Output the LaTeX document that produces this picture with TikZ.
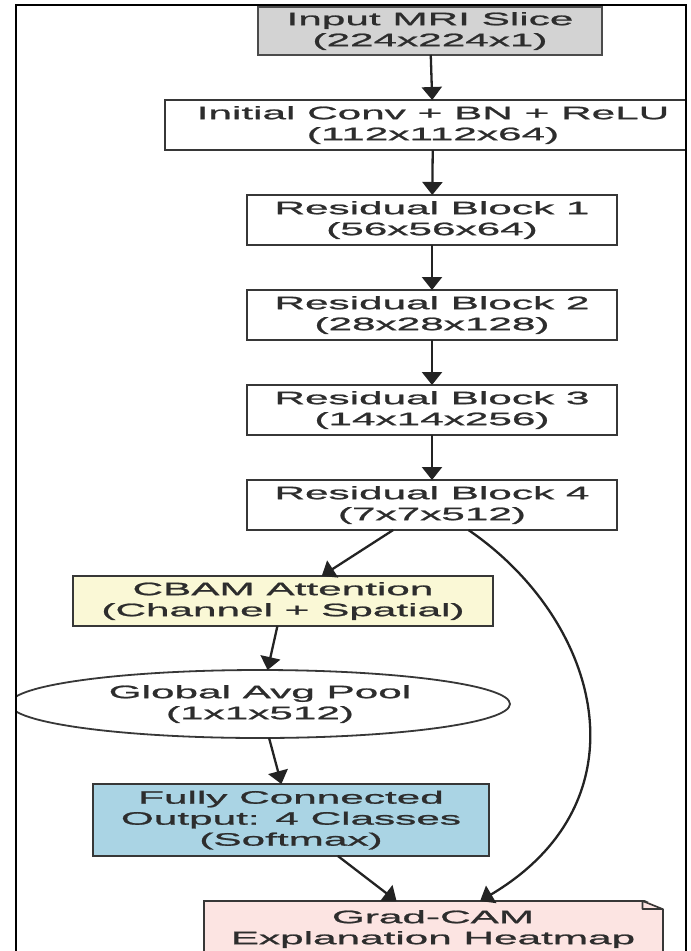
\documentclass[tikz,border=0pt]{standalone}
\usepackage{fontspec}
\newfontfamily\diagfont[FakeStretch=2.35, FakeBold=1.2]{Liberation Sans}
\usetikzlibrary{shapes.geometric, arrows.meta, positioning, calc}
\definecolor{edgegray}{RGB}{55, 55, 55}
\definecolor{arrowgray}{RGB}{35, 35, 35}
\definecolor{textgray}{RGB}{45, 45, 45}
\definecolor{inputgray}{RGB}{211, 211, 211}
\definecolor{cbamyellow}{RGB}{250, 248, 214}
\definecolor{fcblue}{RGB}{170, 212, 228}
\definecolor{campink}{RGB}{252, 228, 226}
\tikzset{
  layer/.style={rectangle, draw=edgegray, line width=2pt, fill=white,
              minimum width=#1, minimum height=50pt, inner sep=0pt, outer sep=0pt},
  layer/.default=370pt,
  inputbox/.style={layer=344pt, draw=edgegray!90, line width=2.6pt,
              fill=inputgray, minimum height=48pt},
  cbambox/.style={layer=420pt, fill=cbamyellow},
  poolbox/.style={ellipse, draw=edgegray, line width=1.8pt, fill=white,
              minimum width=500pt, minimum height=68pt, inner sep=0pt, outer sep=0pt},
  fcbox/.style={layer=396pt, fill=fcblue, minimum height=72pt},
  notebox/.style={layer=459pt, fill=campink, minimum height=56pt},
  arrow/.style={-{Triangle[length=13pt, width=20pt]}, line width=2.3pt, color=arrowgray},
}

\begin{document}
\begin{tikzpicture}[x=1pt, y=-1pt, node distance=45pt,
    every node/.style={font=\diagfont\fontsize{18}{21}\selectfont, text=textgray, align=center}]
  \useasboundingbox (0,0) rectangle (691,951);
  \begin{scope}
  \clip (16,5) rectangle (686,951);
  % backbone
  \node[inputbox] (inp) at (430,31) {Input MRI Slice\\(224x224x1)};
  \node[layer=536pt, below=of inp, xshift=3pt] (init) {Initial Conv + BN + ReLU\\(112x112x64)};
  \node[layer, below=of init, xshift=-1pt] (rb1) {Residual Block 1\\(56x56x64)};
  \node[layer, below=of rb1] (rb2) {Residual Block 2\\(28x28x128)};
  \node[layer, below=of rb2] (rb3) {Residual Block 3\\(14x14x256)};
  \node[layer, below=of rb3] (rb4) {Residual Block 4\\(7x7x512)};

  % attention + head
  \node[cbambox, below=46pt of rb4, xshift=-149pt] (cbam) {CBAM Attention\\(Channel + Spatial)};
  \node[poolbox, below=44pt of cbam, xshift=-23pt] (gap) {Global Avg Pool\\(1x1x512)};
  \node[fcbox, below=46pt of gap, xshift=31pt] (fc) {Fully Connected\\Output: 4 Classes\\(Softmax)};
  \node[notebox, below=45pt of fc, xshift=142pt] (gc) {Grad-CAM\\Explanation Heatmap};

  % folded corner of the note
  \coordinate (gcfold) at ($(gc.north east)+(-20pt,0pt)$);
  \coordinate (gcside) at ($(gc.north east)+(0pt,-8pt)$);
  \fill[white] ($(gcfold)+(0pt,2pt)$) -- ($(gc.north east)+(2pt,2pt)$) -- ($(gcside)+(2pt,0pt)$) -- cycle;
  \draw[edgegray, line width=1.6pt, line join=round] (gcfold) -- (gcside) -- ($(gcfold)+(0pt,-8pt)$) -- cycle;

  \draw[arrow] (inp) -- (init);
  \draw[arrow] (init) -- (rb1);
  \draw[arrow] (rb1) -- (rb2);
  \draw[arrow] (rb2) -- (rb3);
  \draw[arrow] (rb3) -- (rb4);
  \draw[arrow] (rb4) -- (cbam);
  \draw[arrow] (cbam) -- (gap);
  \draw[arrow] (gap) -- (fc);
  \draw[arrow] (fc) -- (gc);
  \draw[arrow] (rb4) .. controls (600,620) and (650,800) .. (gc);
  \end{scope}

  \draw[line width=2.5pt, black] (16,951) -- (16,5) -- (686,5) -- (686,951);
\end{tikzpicture}
\end{document}
